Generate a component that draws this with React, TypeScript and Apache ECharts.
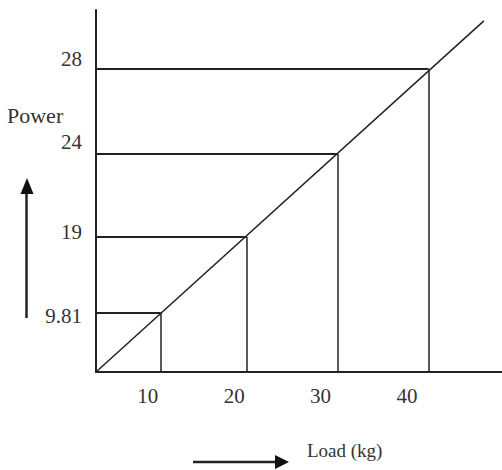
import React, { useEffect, useRef } from "react";
import * as echarts from "echarts";

// Load axis (kg)
const loadTicks = [10, 20, 30, 40];
const loadMin = 4;
const loadMax = 51;
// Step points (load in kg, power level in drawing units)
const stepLoads = [11.5, 21.5, 32.0, 42.5];
const stepLevels = [6.5, 14.9, 24.1, 33.5];
// Power tick labels and their read positions on the power axis
const powerLabels = ["9.81", "19", "24", "28"];
const powerLabelPos = [6.2, 15.5, 25.4, 34.6];
const powerMax = 40;
// Straight characteristic line
const lineStart = [4, 0];
const lineEnd = [48.9, 38.8];

const INK = "#222";
const FONT = "'Liberation Serif', 'DejaVu Serif', serif";

export default function App() {
  const ref = useRef<HTMLDivElement>(null);
  useEffect(() => {
    if (!ref.current) return;
    const chart = echarts.init(ref.current, undefined, { renderer: "svg" });
    const horiz = stepLoads.map((x, i) => ({
      coords: [
        [loadMin, stepLevels[i]],
        [x, stepLevels[i]],
      ],
    }));
    const vert = stepLoads.map((x, i) => ({
      coords: [
        [x, 0],
        [x, stepLevels[i]],
      ],
    }));
    chart.setOption({
      animation: false,
      backgroundColor: "#fff",
      grid: { left: 96, top: 10, right: 0, bottom: 98 },
      xAxis: {
        type: "value",
        min: loadMin,
        max: loadMax,
        axisLine: { show: true, lineStyle: { color: INK, width: 2 } },
        axisTick: { show: false },
        splitLine: { show: false },
        axisLabel: {
          customValues: loadTicks,
          margin: 13,
          color: "#333",
          fontFamily: FONT,
          fontSize: 21,
        },
      },
      yAxis: {
        type: "value",
        min: 0,
        max: powerMax,
        axisLine: { show: true, onZero: false, lineStyle: { color: INK, width: 2 } },
        axisTick: { show: false },
        splitLine: { show: false },
        axisLabel: {
          customValues: powerLabelPos,
          margin: 14,
          color: "#333",
          fontFamily: FONT,
          fontSize: 21,
          formatter: (v: number) => {
            const i = powerLabelPos.findIndex((p) => Math.abs(p - v) < 1e-6);
            return i >= 0 ? powerLabels[i] : "";
          },
        },
      },
      series: [
        {
          type: "line",
          data: [lineStart, lineEnd],
          symbol: "none",
          lineStyle: { color: INK, width: 1.5 },
          z: 3,
        },
        {
          type: "lines",
          coordinateSystem: "cartesian2d",
          data: horiz,
          lineStyle: { color: INK, width: 2, opacity: 1 },
          z: 4,
        },
        {
          type: "lines",
          coordinateSystem: "cartesian2d",
          data: vert,
          lineStyle: { color: INK, width: 1.5, opacity: 1 },
          z: 4,
        },
      ],
      graphic: [
        {
          type: "text",
          left: 7,
          top: 104,
          style: { text: "Power", font: `22px ${FONT}`, fill: "#333" },
        },
        {
          type: "text",
          left: 307,
          top: 441,
          style: { text: "Load (kg)", font: `19px ${FONT}`, fill: "#333" },
        },
        {
          type: "line",
          shape: { x1: 26.5, y1: 318, x2: 26.5, y2: 192 },
          style: { stroke: INK, lineWidth: 2.5 },
        },
        {
          type: "polygon",
          shape: { points: [[20.5, 194], [33.5, 194], [27, 178]] },
          style: { fill: "#111" },
        },
        {
          type: "line",
          shape: { x1: 193, y1: 462, x2: 278, y2: 462 },
          style: { stroke: INK, lineWidth: 2.5 },
        },
        {
          type: "polygon",
          shape: { points: [[275, 455], [275, 469], [289, 462]] },
          style: { fill: "#111" },
        },
      ],
    });
    return () => chart.dispose();
  }, []);
  return (
    <div
      ref={ref}
      style={{ position: "fixed", left: 0, top: 0, width: 502, height: 470 }}
    />
  );
}
